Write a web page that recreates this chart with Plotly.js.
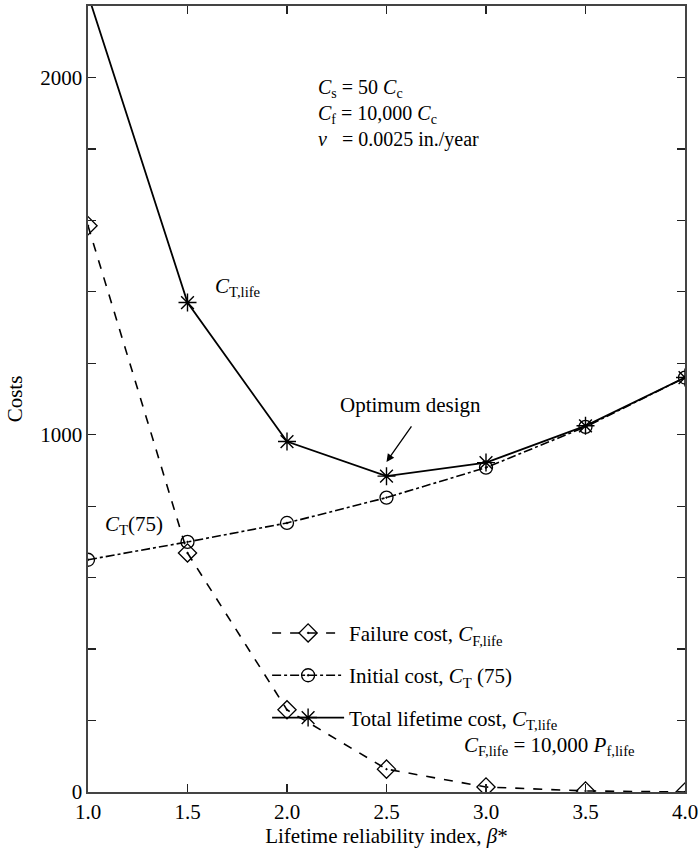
<!DOCTYPE html>
<html>
<head>
<meta charset="utf-8">
<script src="https://cdn.plot.ly/plotly-3.0.1.min.js"></script>
<style>html,body{margin:0;padding:0;background:#fff;}#chart{width:699px;height:848px;}</style>
</head>
<body>
<div id="chart"></div>
<script>
// Data
var beta = [1.0, 1.5, 2.0, 2.5, 3.0, 3.5, 4.0];
var failureCost = [1585, 669, 230, 64, 14, 3, 0];
var initialCost = [650, 700, 753, 824, 908, 1022, 1160];
var totalCost = [2232, 1370, 981, 884, 922, 1025, 1160];
var yTickVals = [0, 200, 400, 600, 800, 1000, 1200, 1400, 1600, 1800, 2000, 2200];
var yTickText = ['0', '', '', '', '', '1000', '', '', '', '', '2000', ''];
var xTickVals = [1.0, 1.5, 2.0, 2.5, 3.0, 3.5, 4.0];
var xTickText = ['1.0', '1.5', '2.0', '2.5', '3.0', '3.5', '4.0'];

var FONT = 'Liberation Serif, Times New Roman, serif';
var FS = 21;

var traces = [
  {
    x: beta, y: failureCost, type: 'scatter', mode: 'lines+markers',
    name: 'Failure cost, <i>C</i><sub>F,life</sub>', legendgroup: 'a',
    line: {color: '#000', width: 1.6, dash: 'dash'},
    marker: {symbol: 'diamond-open-dot', size: 14, color: '#000', line: {width: 1.3, color: '#000'}}
  },
  {
    x: beta, y: initialCost, type: 'scatter', mode: 'lines+markers',
    name: 'Initial cost, <i>C</i><sub>T</sub>\u00a0(75)', legendgroup: 'b',
    line: {color: '#000', width: 1.6, dash: 'dashdot'},
    marker: {symbol: 'circle-open-dot', size: 13, color: '#000', line: {width: 1.3, color: '#000'}}
  },
  {
    x: beta, y: totalCost, type: 'scatter', mode: 'lines+markers',
    name: 'Total lifetime cost, <i>C</i><sub>T,life</sub>', legendgroup: 'c',
    line: {color: '#000', width: 1.8},
    marker: {symbol: 'asterisk-open', size: 15, color: '#000', line: {width: 1.4, color: '#000'}}
  }
];

var layout = {
  width: 699, height: 848,
  margin: {l: 88, r: 14, t: 6, b: 56, pad: 0},
  paper_bgcolor: '#fff', plot_bgcolor: '#fff',
  font: {family: FONT, size: FS, color: '#000'},
  showlegend: true,
  legend: {
    x: 0.30, y: 0.228, xanchor: 'left', yanchor: 'top',
    bgcolor: 'rgba(0,0,0,0)', borderwidth: 0,
    font: {family: FONT, size: FS, color: '#000'},
    traceorder: 'grouped', tracegroupgap: 12, itemwidth: 72
  },
  xaxis: {
    range: [1.0, 4.0], tickvals: xTickVals, ticktext: xTickText,
    ticks: 'inside', ticklen: 8, tickwidth: 1.3, tickcolor: '#222',
    showline: true, linecolor: '#444', linewidth: 1.6, mirror: 'ticks',
    showgrid: false, zeroline: false,
    tickfont: {family: FONT, size: FS, color: '#000'},
    title: {text: 'Lifetime reliability index, <i>β</i>*', font: {family: FONT, size: FS, color: '#000'}, standoff: 1}
  },
  yaxis: {
    range: [0, 2200], tickvals: yTickVals, ticktext: yTickText,
    ticks: 'inside', ticklen: 8, tickwidth: 1.3, tickcolor: '#222',
    showline: true, linecolor: '#444', linewidth: 1.6, mirror: 'ticks',
    showgrid: false, zeroline: false,
    tickfont: {family: FONT, size: FS, color: '#000'},
    title: {text: 'Costs', font: {family: FONT, size: FS, color: '#000'}, standoff: 12}
  },
  annotations: [
    {xref: 'paper', yref: 'paper', x: 0.3827, y: 0.8626, xanchor: 'left', yanchor: 'middle', showarrow: false,
     align: 'left', font: {family: FONT, size: 20, color: '#000'},
     text: '<i>C</i><sub>s</sub>\u00a0= 50 <i>C</i><sub>c</sub><br>' +
           '<i>C</i><sub>f</sub>\u00a0= 10,000 <i>C</i><sub>c</sub><br>' +
           '<i>v</i>\u00a0\u00a0\u00a0= 0.0025 in./year'},
    {xref: 'paper', yref: 'paper', x: 0.2094, y: 0.6424, xanchor: 'left', yanchor: 'middle', showarrow: false,
     text: '<i>C</i><sub>T,life</sub>'},
    {xref: 'paper', yref: 'paper', x: 0.5394, y: 0.4926, xanchor: 'center', yanchor: 'middle', showarrow: false,
     text: 'Optimum design'},
    {xref: 'x', yref: 'y', x: 2.5, y: 924, ax: 26, ay: -37, text: '', showarrow: true,
     arrowhead: 2, arrowsize: 1.2, arrowwidth: 1.3, arrowcolor: '#000', standoff: 0, startstandoff: 0},
    {xref: 'paper', yref: 'paper', x: 0.0250, y: 0.3397, xanchor: 'left', yanchor: 'middle', showarrow: false,
     text: '<i>C</i><sub>T</sub>(75)'},
    {xref: 'paper', yref: 'paper', x: 0.626, y: 0.0585, xanchor: 'left', yanchor: 'middle', showarrow: false,
     text: '<i>C</i><sub>F,life</sub> = 10,000 <i>P</i><sub>f,life</sub>'}
  ]
};

Plotly.newPlot('chart', traces, layout, {staticPlot: true, displayModeBar: false});
</script>
</body>
</html>
